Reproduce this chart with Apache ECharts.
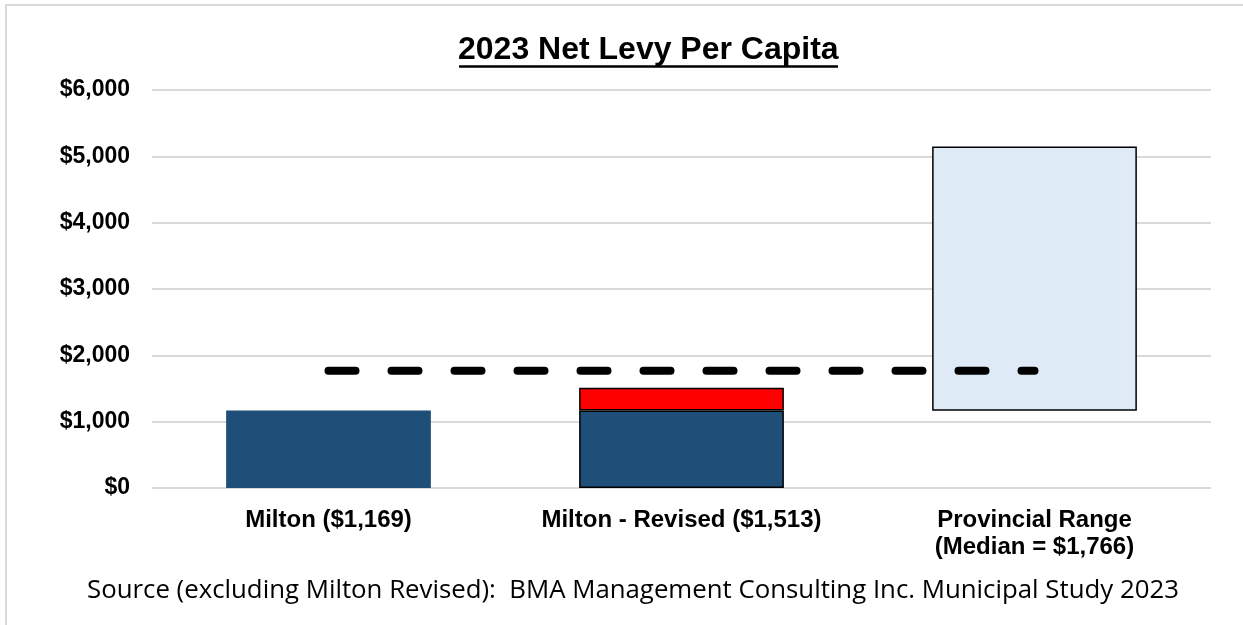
<!DOCTYPE html>
<html>
<head>
<meta charset="utf-8">
<script src="https://cdn.jsdelivr.net/npm/echarts@6/dist/echarts.min.js"></script>
<style>
html,body{margin:0;padding:0;background:#fff;}
#chart{width:1243px;height:625px;}
</style>
</head>
<body>
<div id="chart"></div>
<script>
const titleText = '2023 Net Levy Per Capita';
const sourceText = 'Source (excluding Milton Revised):  BMA Management Consulting Inc. Municipal Study 2023';
const categories = ['Milton ($1,169)', 'Milton - Revised ($1,513)', 'Provincial Range\n(Median = $1,766)'];
const miltonLevy = [1169, 1169, null];
const revisedIncrease = [null, 344, null];
const rangeLow = [null, null, 1165];
const rangeHigh = [null, null, 5150];
const medianLevy = [1766, 1766, 1766];
const yTicks = [0, 1000, 2000, 3000, 4000, 5000, 6000];

const chart = echarts.init(document.getElementById('chart'), null, {renderer: 'canvas'});
const fmt = v => '$' + v.toLocaleString('en-US');
const rangeSpan = rangeHigh.map((h, i) => (h == null ? null : h - rangeLow[i]));

chart.setOption({
  animation: false,
  backgroundColor: '#ffffff',
  title: [{
    text: titleText,
    left: 453,
    top: 29,
    textStyle: {fontFamily: 'Liberation Sans, Arial, sans-serif', fontWeight: 'bold', fontSize: 32, color: '#000'}
  }, {
    text: sourceText,
    left: 82,
    top: 573,
    textStyle: {fontFamily: 'Open Sans, sans-serif', fontWeight: 'normal', fontSize: 25.8, color: '#000'}
  }],
  graphic: [{
    type: 'rect',
    shape: {x: 6, y: 5, width: 1400, height: 800},
    style: {fill: 'none', stroke: '#d9d9d9', lineWidth: 2},
    silent: true
  }, {
    type: 'line',
    shape: {x1: 459, y1: 66.5, x2: 838, y2: 66.5},
    style: {stroke: '#000', lineWidth: 2.5},
    silent: true
  }],
  grid: {left: 152, right: 32, top: 90, bottom: 137, containLabel: false},
  xAxis: {
    type: 'category',
    data: categories,
    axisLine: {show: false},
    axisTick: {show: false},
    axisLabel: {
      margin: 19,
      lineHeight: 27,
      fontFamily: 'Liberation Sans, Arial, sans-serif',
      fontWeight: 'bold',
      fontSize: 24,
      color: '#000',
      interval: 0
    }
  },
  yAxis: {
    type: 'value',
    min: 0,
    max: yTicks[yTicks.length - 1],
    interval: yTicks[1] - yTicks[0],
    axisLine: {show: false},
    axisTick: {show: false},
    splitLine: {lineStyle: {color: '#d9d9d9', width: 2}},
    axisLabel: {
      margin: 22,
      formatter: fmt,
      fontFamily: 'Liberation Sans, Arial, sans-serif',
      fontWeight: 'bold',
      fontSize: 23,
      color: '#000'
    }
  },
  series: [{
    name: 'Milton',
    type: 'bar',
    stack: 'levy',
    barCategoryGap: '42%',
    data: miltonLevy.map((v, i) => ({
      value: v,
      itemStyle: {color: '#1f4e79', borderColor: '#000', borderWidth: revisedIncrease[i] != null ? 1.5 : 0}
    }))
  }, {
    name: 'Revised increase',
    type: 'bar',
    stack: 'levy',
    itemStyle: {color: '#ff0000', borderColor: '#000', borderWidth: 1.5},
    data: revisedIncrease
  }, {
    name: 'Range base',
    type: 'bar',
    stack: 'levy',
    itemStyle: {color: 'rgba(0,0,0,0)'},
    data: rangeLow
  }, {
    name: 'Provincial range',
    type: 'bar',
    stack: 'levy',
    itemStyle: {color: '#deeaf6', borderColor: '#000', borderWidth: 1.5},
    data: rangeSpan
  }, {
    name: 'Median',
    type: 'line',
    data: medianLevy,
    symbol: 'none',
    z: 5,
    lineStyle: {color: '#000', width: 8, type: [27, 36], cap: 'round'}
  }]
});
</script>
</body>
</html>
